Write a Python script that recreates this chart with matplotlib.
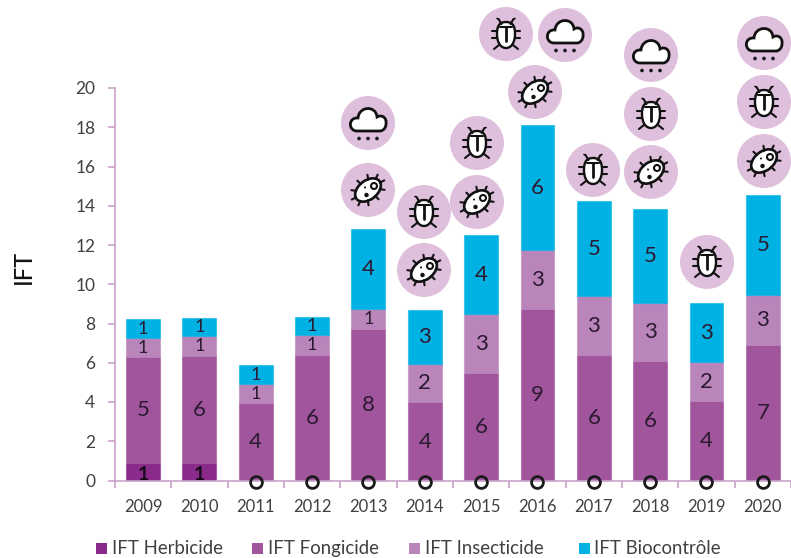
import numpy as np
import matplotlib
matplotlib.use("Agg")
import matplotlib.pyplot as plt
from matplotlib.patches import Circle, Ellipse, PathPatch, Rectangle
from matplotlib.path import Path
from matplotlib.transforms import Affine2D
from matplotlib.ticker import FixedLocator

plt.rcParams['font.family'] = ['Lato', 'DejaVu Sans']

years = ['2009','2010','2011','2012','2013','2014','2015','2016','2017','2018','2019','2020']
herbicide = [0.9,0.9,0,0,0,0,0,0,0,0,0,0]
fongicide = [5.4,5.45,3.95,6.4,7.7,4.0,5.5,8.75,6.4,6.1,4.05,6.9]
insecticide = [0.95,1.0,0.95,1.0,1.05,1.95,3.0,3.0,3.0,2.95,2.0,2.55]
biocontrole = [1.0,0.95,1.0,0.95,4.05,2.75,4.0,6.35,4.85,4.8,3.0,5.1]
lab_herb = ['1','1','0','0','0','0','0','0','0','0','0','0']
lab_fong = ['5','6','4','6','8','4','6','9','6','6','4','7']
lab_ins = ['1','1','1','1','1','2','3','3','3','3','2','3']
lab_bio = ['1','1','1','1','4','3','4','6','5','5','3','5']
# decorative icons: kind, pixel centre
icons = [('cloud',368,123),('virus',368,190),('bug',424,212),('virus',424,270),
         ('bug',477,143),('virus',477,202),('bug',506,34),('cloud',565,35),
         ('virus',535,92),('bug',593,170),('cloud',651,55),('bug',651,114),
         ('virus',651,172),('bug',707,262),('cloud',764,43),('bug',764,102),('virus',764,161)]

W, H = 791, 558
fig = plt.figure(figsize=(W/100, H/100), dpi=100)
L, R, T, B = 114.8, 791, 88, 480.5
ax = fig.add_axes([L/W, 1-B/H, (R-L)/W, (B-T)/H])
AX = '#c9a3cb'; TXT = '#404040'; DARK = '#2b1a30'
COL = ['#8a2a8b', '#a0559d', '#b985ba', '#00b2e3']
names = ['IFT Herbicide','IFT Fongicide','IFT Insecticide','IFT Biocontrôle']
x = np.arange(len(years))
bottom = np.zeros(len(years))
series = [herbicide, fongicide, insecticide, biocontrole]
labels = [lab_herb, lab_fong, lab_ins, lab_bio]
for k, (s, c, n, lb) in enumerate(zip(series, COL, names, labels)):
    s = np.array(s)
    ax.bar(x, s, 0.6, bottom=bottom, color=c, label=n, linewidth=0.8,
           edgecolor=matplotlib.colors.to_rgba(c, 0.55), zorder=2)
    for xi, v, bt, t in zip(x, s, bottom, lb):
        if t == '0':
            ax.plot([xi],[-0.1], 'o', ms=8.5, mfc='none', mec='#1a1a1a', mew=2.0, zorder=5, clip_on=False)
        elif k == 0:
            ax.text(xi, 0.3, t, ha='center', va='center', color='#160a18',
                    fontsize=14, fontweight='bold', zorder=6)
        else:
            big = v >= 1.5
            ax.text(xi, bt+v/2-0.02, t, ha='center', va='center', color=DARK,
                    fontsize=16 if big else 13, zorder=6)
    bottom += s

ax.set_xlim(-0.5, 11.5); ax.set_ylim(0, 20)
ax.set_yticks(range(0, 21, 2))
ax.xaxis.set_major_locator(FixedLocator(np.arange(-0.5, 12, 1)))
ax.set_xticklabels([])
for xi, yr in zip(x, years):
    ax.annotate(yr, (xi, 0), xytext=(0, -26.5), textcoords='offset pixels', ha='center', va='center',
                fontsize=12, color=TXT, annotation_clip=False)
ax.tick_params(axis='x', length=5, width=1.2, color=AX)
ax.tick_params(axis='y', length=5, width=1.2, color=AX, labelsize=12.5, labelcolor=TXT, pad=9)
for sp in ('top','right'):
    ax.spines[sp].set_visible(False)
for sp in ('left','bottom'):
    ax.spines[sp].set_color(AX); ax.spines[sp].set_linewidth(1.2)
ax.patch.set_alpha(0)
ax.set_zorder(2)

# overlay in pixel coordinates
ov2 = fig.add_axes([0,0,1,1], zorder=3)
ov2.set_xlim(0, W); ov2.set_ylim(H, 0); ov2.axis('off'); ov2.patch.set_alpha(0)

ov2.text(23, 267, 'IFT', rotation=90, ha='center', va='center', fontsize=17, color='#111111', fontweight='medium')

leg_x = [(96,112),(252,268),(409,425),(579,594)]
for (sq, tx), c, n in zip(leg_x, COL, names):
    ov2.add_patch(Rectangle((sq, 543), 11, 11, color=c, lw=0))
    ov2.text(tx, 548.5, n, ha='left', va='center', fontsize=13.4, color=TXT)

ICON = '#111111'
def ln(xs, ys, lw=1.5):
    ov2.plot(xs, ys, color=ICON, lw=lw, solid_capstyle='round')

def cloud(cx, cy):
    pts = [(-11,8),(-20,8),(-20,-6),(-10,-5),(-9,-17),(8,-18),(9,-6),
           (14,-9),(19,-5),(18,1),(18,5),(15,8),(12,8),(-11,8)]
    verts = [(cx+a, cy+b) for a, b in pts]
    codes = [Path.MOVETO]+[Path.CURVE4]*12+[Path.CLOSEPOLY]
    ov2.add_patch(PathPatch(Path(verts, codes), fc='white', ec=ICON, lw=2.0))
    for d in (-9, 0, 9):
        ov2.add_patch(Circle((cx+d, cy+15.5), 1.8, color=ICON, lw=0))

def bug(cx, cy):
    for s in (-1, 1):
        for yy in (-3, 4):
            ln([cx+s*9, cx+s*14], [cy+yy, cy+yy])
        ln([cx+s*7, cx+s*12], [cy+11, cy+15])
        ln([cx+s*4.5, cx+s*7.5], [cy-10, cy-15])
        ln([cx+s*7.5, cx+s*9], [cy-15, cy-15.5], 1.2)
    verts = [(cx,cy-12),(cx+8,cy-12),(cx+9,cy-6),(cx+9,cy),
             (cx+9,cy+9),(cx+5,cy+14),(cx,cy+14),
             (cx-5,cy+14),(cx-9,cy+9),(cx-9,cy),
             (cx-9,cy-6),(cx-8,cy-12),(cx,cy-12),(cx,cy-12)]
    codes = [Path.MOVETO]+[Path.CURVE4]*12+[Path.CLOSEPOLY]
    ov2.add_patch(PathPatch(Path(verts, codes), fc='white', ec=ICON, lw=1.7))
    ln([cx-6, cx+6], [cy-7, cy-7], 1.5)
    ln([cx, cx], [cy-7, cy+7], 2.0)

def virus(cx, cy):
    tr = Affine2D().rotate_deg(-38).translate(cx, cy)
    for a in np.deg2rad(np.arange(10, 370, 36)):
        p0 = tr.transform((14*np.cos(a), 9*np.sin(a)))
        p1 = tr.transform((19*np.cos(a), 14*np.sin(a)))
        ln([p0[0], p1[0]], [p0[1], p1[1]], 1.5)
    ov2.add_patch(Ellipse((cx, cy), 29, 19, angle=-38, fc='white', ec=ICON, lw=1.9))
    ov2.add_patch(Circle((cx+6, cy-4), 3.0, fc='white', ec=ICON, lw=1.5))
    ov2.add_patch(Circle((cx-1.5, cy+5), 2.2, color=ICON, lw=0))
    ov2.add_patch(Circle((cx-3, cy-2.5), 1.0, color=ICON, lw=0))

draw = {'cloud': cloud, 'bug': bug, 'virus': virus}
for kind, cx, cy in icons:
    ov2.add_patch(Circle((cx, cy), 27, fc='#dfc0dc', ec='none'))
    draw[kind](cx, cy)

fig.savefig('out.png', dpi=100)
